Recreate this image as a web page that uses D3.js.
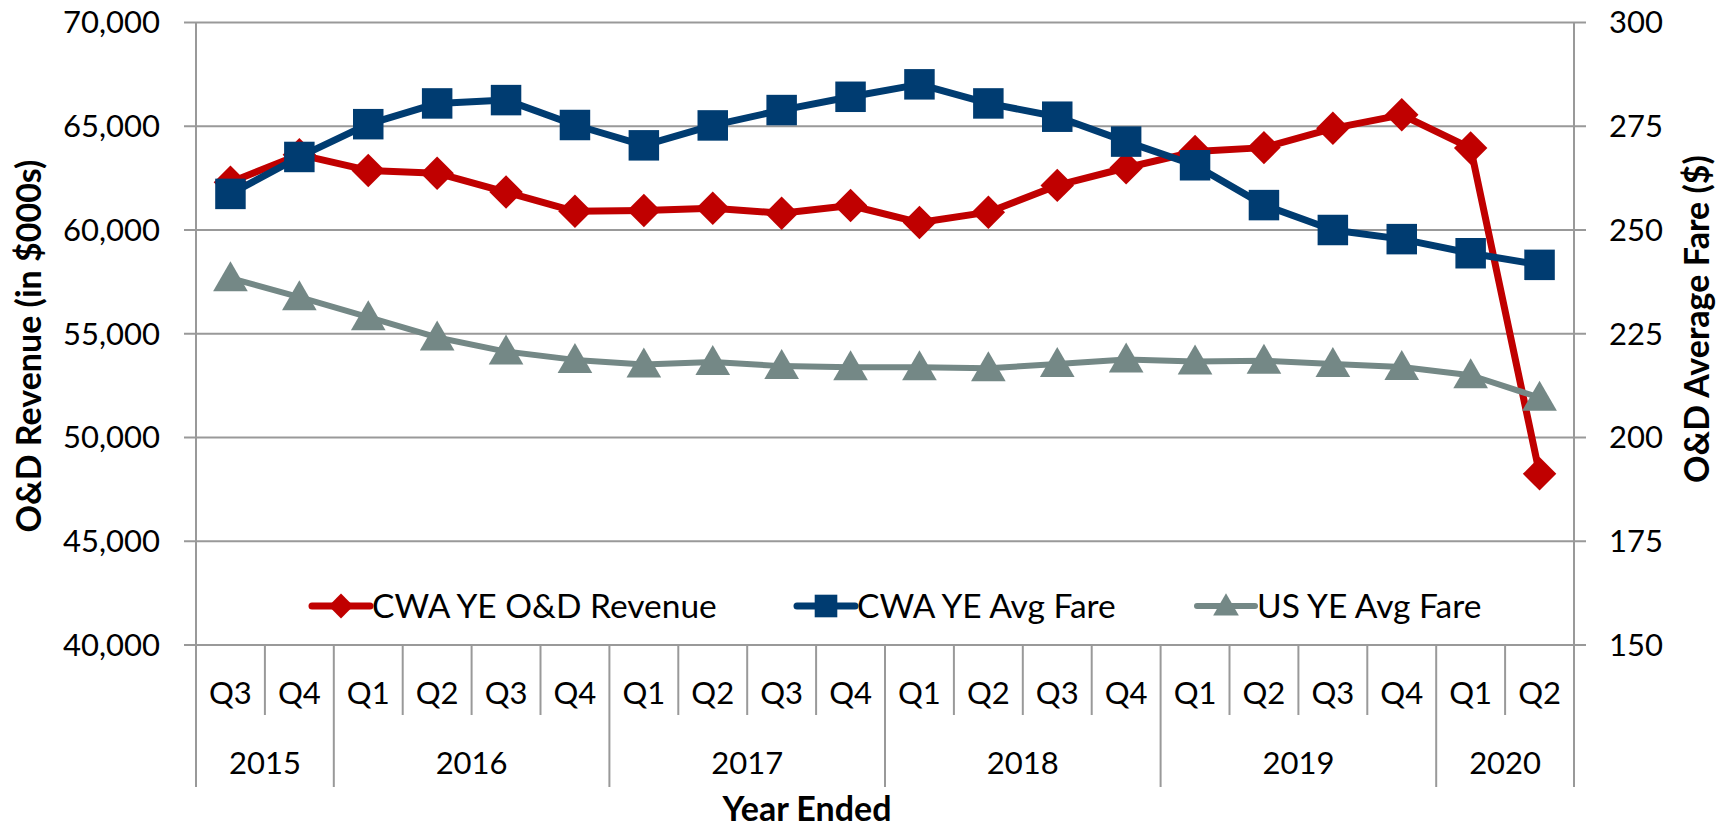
<!DOCTYPE html>
<html lang="en">
<head>
<meta charset="utf-8">
<title>O&amp;D Revenue and Average Fare</title>
<style>
  body { margin: 0; background: #fff; }
  svg { display: block; font-family: "Lato", "Open Sans", sans-serif; }
  .tick-label { font-size: 31px; fill: #000; }
  .legend-label { font-size: 33.5px; fill: #000; }
  .axis-title { font-size: 34px; font-weight: bold; fill: #000; }
  .grid { stroke: #999; stroke-width: 2; }
</style>
<script src="https://cdn.jsdelivr.net/npm/d3@7"></script>
</head>
<body>
<script>
// quarter / year ended labels
var quarters = ["Q3","Q4","Q1","Q2","Q3","Q4","Q1","Q2","Q3","Q4",
                "Q1","Q2","Q3","Q4","Q1","Q2","Q3","Q4","Q1","Q2"];
var years = ["2015","2015","2016","2016","2016","2016","2017","2017","2017","2017",
             "2018","2018","2018","2018","2019","2019","2019","2019","2020","2020"];

// CWA YE O&D Revenue (left axis, $000s)
var revenue = [62300, 63630, 62870, 62740, 61830, 60900, 60940, 61050, 60810, 61180,
               60360, 60860, 62150, 63000, 63780, 63970, 64900, 65550, 63950, 48250];
// CWA YE Avg Fare (right axis, $)
var cwaFare = [258.7, 267.6, 275.5, 280.5, 281.3, 275.3, 270.4, 275.2, 278.9, 282.1,
               285.1, 280.5, 277.3, 271.3, 265.6, 256.0, 250.0, 247.8, 244.4, 241.6];
// US YE Avg Fare (right axis, $)
var usFare = [238.4, 233.8, 229.0, 224.1, 220.7, 218.7, 217.6, 218.2, 217.2, 216.9,
              216.9, 216.7, 217.7, 218.8, 218.3, 218.5, 217.7, 217.0, 215.0, 209.6];

var leftTicks = [40000, 45000, 50000, 55000, 60000, 65000, 70000];
var rightTicks = [150, 175, 200, 225, 250, 275, 300];

var W = 1730, H = 830;
var m = {left: 196, right: 1574, top: 22.5, bottom: 645};

var svg = d3.select("body").append("svg")
    .attr("width", W)
    .attr("height", H);

var x = d3.scaleBand()
    .domain(d3.range(quarters.length))
    .range([m.left, m.right])
    .paddingInner(0).paddingOuter(0);
var bw = x.bandwidth();
var cx = function(i){ return x(i) + bw / 2; };

var yL = d3.scaleLinear().domain([40000, 70000]).range([m.bottom, m.top]);
var yR = d3.scaleLinear().domain([150, 300]).range([m.bottom, m.top]);

// gridlines + tick marks on both sides
svg.append("g").selectAll("line")
    .data(leftTicks)
    .enter().append("line")
    .attr("class", "grid")
    .attr("x1", m.left - 12).attr("x2", m.right + 12)
    .attr("y1", function(d){ return yL(d); })
    .attr("y2", function(d){ return yL(d); });

// left tick labels
svg.append("g").selectAll("text")
    .data(leftTicks)
    .enter().append("text")
    .attr("class", "tick-label")
    .attr("x", 160)
    .attr("y", function(d){ return yL(d); })
    .attr("dy", "0.35em")
    .attr("text-anchor", "end")
    .text(d3.format(","));

// right tick labels
svg.append("g").selectAll("text")
    .data(rightTicks)
    .enter().append("text")
    .attr("class", "tick-label")
    .attr("x", 1609)
    .attr("y", function(d){ return yR(d); })
    .attr("dy", "0.35em")
    .text(function(d){ return d; });

// vertical axis lines (run down through the category table)
[m.left, m.right].forEach(function(xx){
  svg.append("line").attr("class", "grid")
    .attr("x1", xx).attr("x2", xx)
    .attr("y1", m.top).attr("y2", 787);
});

// category table: quarter separators and year separators
var bounds = d3.range(1, quarters.length);
svg.append("g").selectAll("line")
    .data(bounds)
    .enter().append("line")
    .attr("class", "grid")
    .attr("x1", function(i){ return x(i); })
    .attr("x2", function(i){ return x(i); })
    .attr("y1", m.bottom)
    .attr("y2", function(i){ return years[i] !== years[i-1] ? 787 : 715; });

svg.append("g").selectAll("text")
    .data(quarters)
    .enter().append("text")
    .attr("class", "tick-label")
    .attr("x", function(d, i){ return cx(i); })
    .attr("y", 693)
    .attr("dy", "0.35em")
    .attr("text-anchor", "middle")
    .text(function(d){ return d; });

var yearGroups = d3.groups(d3.range(years.length), function(i){ return years[i]; });
svg.append("g").selectAll("text")
    .data(yearGroups)
    .enter().append("text")
    .attr("class", "tick-label")
    .attr("x", function(g){ return (x(g[1][0]) + x(g[1][g[1].length-1]) + bw) / 2; })
    .attr("y", 763)
    .attr("dy", "0.35em")
    .attr("text-anchor", "middle")
    .text(function(g){ return g[0]; });

// axis titles
svg.append("text").attr("class", "axis-title")
    .attr("transform", "translate(29,346) rotate(-90)")
    .attr("dy", "0.35em")
    .attr("text-anchor", "middle")
    .text("O&D Revenue (in $000s)");
svg.append("text").attr("class", "axis-title")
    .attr("transform", "translate(1697,319) rotate(-90)")
    .attr("dy", "0.35em")
    .attr("text-anchor", "middle")
    .text("O&D Average Fare ($)");
svg.append("text").attr("class", "axis-title")
    .attr("x", 807).attr("y", 809)
    .attr("dy", "0.35em")
    .attr("text-anchor", "middle")
    .text("Year Ended");

// series (diamond = rotated square, like Excel's marker)
var series = [
  {name: "CWA YE O&D Revenue", values: revenue, y: yL, color: "#C00000", width: 7, symbol: d3.symbolSquare, size: 560, rot: 45},
  {name: "CWA YE Avg Fare", values: cwaFare, y: yR, color: "#003C71", width: 7, symbol: d3.symbolSquare, size: 930, rot: 0},
  {name: "US YE Avg Fare", values: usFare, y: yR, color: "#748886", width: 6, symbol: d3.symbolTriangle, size: 520, rot: 0}
];

series.forEach(function(s){
  var line = d3.line()
      .x(function(d, i){ return cx(i); })
      .y(function(d){ return s.y(d); });
  svg.append("path")
      .datum(s.values)
      .attr("d", line)
      .attr("fill", "none")
      .attr("stroke", s.color)
      .attr("stroke-width", s.width)
      .attr("stroke-linejoin", "round");
  svg.append("g").selectAll("path")
      .data(s.values)
      .enter().append("path")
      .attr("d", d3.symbol().type(s.symbol).size(s.size))
      .attr("fill", s.color)
      .attr("transform", function(d, i){
        var ty = s.y(d) + (s.symbol === d3.symbolTriangle ? 3 : 0);
        return "translate(" + cx(i) + "," + ty + ") rotate(" + s.rot + ")";
      });
});

// legend
var legendX = [312, 797, 1197];
var lg = svg.append("g").selectAll("g")
    .data(series)
    .enter().append("g")
    .attr("transform", function(d, i){ return "translate(" + legendX[i] + ",606)"; });
lg.append("line")
    .attr("x1", 0).attr("x2", 58)
    .attr("stroke", function(d){ return d.color; })
    .attr("stroke-width", function(d){ return d.width; })
    .attr("stroke-linecap", "round");
lg.append("path")
    .attr("d", function(d){ return d3.symbol().type(d.symbol).size(d.size * 0.55)(); })
    .attr("fill", function(d){ return d.color; })
    .attr("transform", function(d){ return "translate(29," + (d.symbol === d3.symbolTriangle ? 2 : 0) + ") rotate(" + d.rot + ")"; });
lg.append("text")
    .attr("class", "legend-label")
    .attr("x", 60)
    .attr("dy", "0.35em")
    .text(function(d){ return d.name; });
</script>
</body>
</html>
